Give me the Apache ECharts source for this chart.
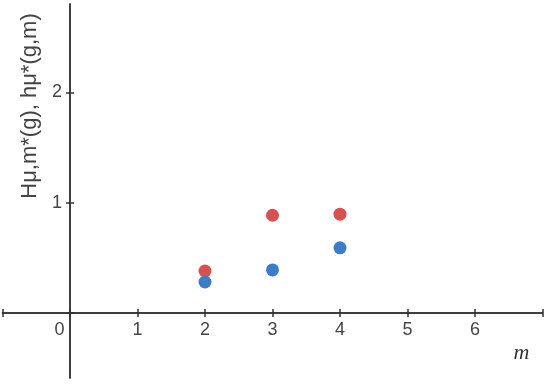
<!DOCTYPE html>
<html>
<head>
<meta charset="utf-8">
<script src="https://cdn.jsdelivr.net/npm/echarts@6/dist/echarts.min.js"></script>
<style>
  html, body { margin: 0; padding: 0; background: #fff; }
  #grafico { width: 550px; height: 384px; }
</style>
</head>
<body>
<div id="grafico"></div>
<script>
// --- Datos ---
const valoresM = [2, 3, 4];
const serieH = [0.38, 0.885, 0.895];   // rojo: Hμ,m*(g)
const serieh = [0.28, 0.39, 0.59];     // azul: hμ*(g,m)
const ticksX = [-1, 0, 1, 2, 3, 4, 5, 6, 7];
const etiquetasY = [1, 2];
const ticksY = [0, 1, 2];
const rangoY = [-0.59, 2.8];

const colorEje = "#333";
const colorTexto = "#444";

// --- Area de dibujo ---
const ancho = 550, alto = 384;
const margen = { left: 2.5, right: 7.5, top: 4, bottom: 6 };
const anchoGrid = ancho - margen.left - margen.right;
const altoGrid = alto - margen.top - margen.bottom;

// desplazamiento de los ejes hasta el cero del otro eje
const xMin = ticksX[0], xMax = ticksX[ticksX.length - 1];
const ceroX = (0 - xMin) / (xMax - xMin) * anchoGrid;            // desde la izquierda
const ceroY = (0 - rangoY[0]) / (rangoY[1] - rangoY[0]) * altoGrid; // desde abajo

var myChart = echarts.init(document.getElementById("grafico"));

// eje base (con etiquetas) y eje espejo (marcas hacia dentro) para que las marcas crucen la linea
function ejeX(espejo) {
    return {
        type: "value",
        min: xMin,
        max: xMax,
        interval: 1,
        position: "bottom",
        offset: -ceroY,
        splitLine: { show: false },
        axisLine: {
            show: true,
            onZero: false,
            lineStyle: { color: colorEje, width: 1.5 }
        },
        axisTick: { show: true, inside: espejo, length: 4, lineStyle: { color: colorEje, width: 1.5 } },
        axisLabel: {
            show: !espejo,
            margin: 8,
            fontFamily: "Liberation Sans",
            fontSize: 18,
            color: colorTexto,
            formatter: (v) => {
                if (v === 0) return "{cero|0}";
                if (v < 0 || v > 6) return "";
                return String(v);
            },
            rich: {
                cero: { fontFamily: "Liberation Sans", fontSize: 18, color: colorTexto, padding: [0, 21, 0, 0] }
            }
        },
        name: espejo ? "" : "m",
        nameLocation: "end",
        nameGap: -29,
        nameMoveOverlap: false,
        nameTextStyle: {
            fontFamily: "Liberation Serif",
            fontStyle: "italic",
            fontSize: 22,
            color: "#333",
            verticalAlign: "top",
            lineHeight: 80
        }
    };
}

function ejeY(espejo) {
    return {
        type: "value",
        min: rangoY[0],
        max: rangoY[1],
        position: "left",
        offset: -ceroX,
        splitLine: { show: false },
        axisLine: {
            show: true,
            onZero: false,
            lineStyle: { color: colorEje, width: 1.5 }
        },
        axisTick: { show: true, inside: espejo, length: 4, customValues: ticksY, lineStyle: { color: colorEje, width: 1.5 } },
        axisLabel: {
            show: !espejo,
            margin: 8,
            customValues: etiquetasY,
            fontFamily: "Liberation Sans",
            fontSize: 18,
            color: colorTexto
        },
        name: espejo ? "" : "{n|Hμ,m*(g), hμ*(g,m)}",
        nameLocation: "middle",
        nameRotate: 90,
        nameGap: 29,
        nameMoveOverlap: false,
        nameTextStyle: {
            fontFamily: "Liberation Sans",
            fontSize: 22,
            color: colorTexto,
            rich: {
                n: { fontFamily: "Liberation Sans", fontSize: 22, color: colorTexto, padding: [0, 0, 0, 170] }
            }
        }
    };
}

myChart.setOption({
    animation: false,
    grid: {
        left: margen.left,
        right: margen.right,
        top: margen.top,
        bottom: margen.bottom,
        containLabel: false,
        outerBoundsMode: "none"
    },
    xAxis: [ejeX(false), ejeX(true)],
    yAxis: [ejeY(false), ejeY(true)],
    series: [
        {
            name: "H",
            type: "scatter",
            xAxisIndex: 0,
            yAxisIndex: 0,
            symbolSize: 13,
            itemStyle: { color: "#d6514f", opacity: 1 },
            data: valoresM.map((m, i) => [m, serieH[i]])
        },
        {
            name: "h",
            type: "scatter",
            xAxisIndex: 0,
            yAxisIndex: 0,
            symbolSize: 13,
            itemStyle: { color: "#3d7cc6", opacity: 1 },
            data: valoresM.map((m, i) => [m, serieh[i]])
        },
        {
            // serie vacia para que los ejes espejo se dibujen
            name: "espejo",
            type: "scatter",
            xAxisIndex: 1,
            yAxisIndex: 1,
            silent: true,
            data: []
        }
    ]
});
</script>
</body>
</html>
